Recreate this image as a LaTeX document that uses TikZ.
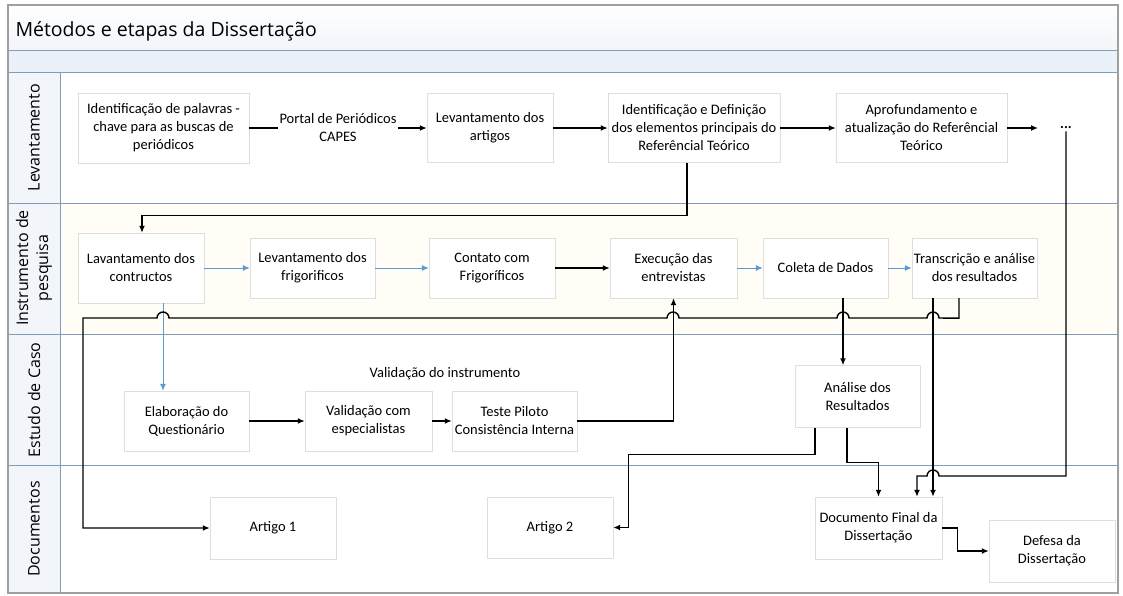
\documentclass[tikz,border=0pt]{standalone}
\usepackage{fontspec}
\setmainfont{Carlito}
\newfontfamily\lanefont{Open Sans}
\usetikzlibrary{arrows.meta}

\definecolor{lanecol}{RGB}{127,156,184}
\definecolor{flowblue}{RGB}{91,155,213}
\definecolor{boxline}{RGB}{222,222,222}
\definecolor{headfill}{RGB}{242,245,250}
\definecolor{bandfill}{RGB}{234,241,248}
\definecolor{lanewarm}{RGB}{255,253,246}

\begin{document}
\begin{tikzpicture}[	x=1pt,y=-1pt,%
					>={Latex[length=7pt,width=6pt]},%
					every node/.style={font=\fontsize{14.5}{18}\selectfont},%
					etapa/.style={draw=boxline,fill=white,align=center,inner sep=2pt},%
					rotulo/.style={align=center,inner sep=1pt},%
					raia/.style={rotate=90,align=center,font=\lanefont\fontsize{16}{20}\selectfont},%
					fluxo/.style={->,line width=1.4pt},%
					fluxoazul/.style={->,flowblue,line width=1pt}]
\useasboundingbox (0,0) rectangle (1123,595);

% raias
\shade[top color=white,bottom color=headfill] (8,5) rectangle (1118,50);
\fill[bandfill] (8,50) rectangle (1118,72);
\fill[headfill] (8,72) rectangle (60,593);
\fill[lanewarm] (60,203) rectangle (1118,334);
\foreach \y in {50,72,203,334,465}
	\draw[lanecol] (8,\y) -- (1118,\y);
\draw[lanecol] (60,72) -- (60,593);
\draw[gray!75,line width=1.5pt] (8,5) rectangle (1118,593);

\node[anchor=base west,font=\lanefont\fontsize{19.5}{22}\selectfont] (titulo) at (12,36) {Métodos e etapas da Dissertação};
\node[raia] (lev) at (34,137.5) {Levantamento};
\node[raia] (inst) at (34,268) {Instrumento de\\pesquisa};
\node[raia] (est) at (34,400) {Estudo de Caso};
\node[raia] (doc) at (34,529) {Documentos};

\foreach \a/\b/\c/\w/\h/\d in {ipal/163.5/128/171/70/{Identificação de palavras -\\chave para as buscas de\\periódicos},
	artigos/490/128/126/69/{Levantamento dos\\artigos},
	idef/694/128/172/69/{Identificação e Definição\\dos elementos principais do\\Referêncial Teórico},
	aprof/921.5/128/171/69/{Aprofundamento e\\atualização do Referêncial\\Teórico},
	cons/141/268/126/70/{Lavantamento dos\\contructos},
	frig/312.5/268/125/60/{Levantamento dos\\frigorificos},
	cont/492/268/126/60/{Contato com\\Frigoríficos},
	exec/673.5/268/127/60/{Execução das\\entrevistas},
	coleta/825.5/268/125/60/{Coleta de Dados},
	transc/974.5/268/125/60/{Transcrição e análise\\dos resultados},
	elab/186.5/421/125/60/{Elaboração do\\Questionário},
	valesp/368.5/421/127/60/{Validação com\\especialistas},
	teste/514.5/421/125/60/{Teste Piloto\\Consistência Interna},
	analise/857.5/396.5/125/62/{Análise dos\\Resultados},
	art1/273/528/126/62/{Artigo 1},
	art2/550/527.5/126/61/{Artigo 2},
	docf/878.5/528/127/62/{Documento Final da\\Dissertação},
	defesa/1052/551/126/62/{Defesa da\\Dissertação}}
	\node[etapa,minimum width=\w pt,minimum height=\h pt] (\a) at (\b,\c) {\d};

\node[rotulo] (capes) at (338,128) {Portal de Periódicos\\CAPES};
\node[inner xsep=22pt,inner ysep=2pt,font=\bfseries\fontsize{14.5}{18}\selectfont] (dots) at (1066,128) {...};
\node[rotulo] (valinst) at (445,374) {Validação do instrumento};

\draw[line width=1.4pt] (ipal) -- (capes);
\foreach \from/\to in {capes/artigos,artigos/idef,idef/aprof,aprof/dots,cont/exec,elab/valesp,valesp/teste}
	\draw[fluxo] (\from) -- (\to);
\foreach \from/\to in {cons/frig,frig/cont,exec/coleta,coleta/transc}
	\draw[fluxoazul] (\from) -- (\to);

\draw[fluxo] ([xshift=-7pt]idef.south) -- ++(0,53) -| ([xshift=1pt]cons.north);
\draw[fluxoazul] ([xshift=22pt]cons.south) -- ([xshift=22pt]cons.south |- elab.north);
\draw[fluxo] (teste.east) -| (exec.south);
\draw[fluxo] ([xshift=17.5pt]coleta.south) -- ([xshift=17.5pt]coleta.south |- analise.north);

% linha longa com saltos
\draw[fluxo] ([xshift=-15.5pt]transc.south) -- ++(0,20) -- (939,318) arc[start angle=0,end angle=-180,radius=6]
	-- (849,318) arc[start angle=0,end angle=-180,radius=6]
	-- (679,318) arc[start angle=0,end angle=-180,radius=6]
	-- (169,318) arc[start angle=0,end angle=-180,radius=6]
	-- (83,318) |- (art1.west);
\draw[fluxo] ([xshift=-41.5pt]transc.south) -- ([xshift=54.5pt]docf.north);
\draw[fluxo] (dots.south) |- (939,476) arc[start angle=0,end angle=-180,radius=6] -| ([xshift=38.5pt]docf.north);

\draw[fluxo] ([xshift=-42.5pt]analise.south) -- ++(0,27) -| ([xshift=15pt]art2.east) -- (art2.east);
\draw[fluxo] ([xshift=-10.5pt]analise.south) -- ++(0,35) -| (docf.north);
\draw[fluxo] (docf.east) -- ++(15,0) |- (defesa.west);

\end{tikzpicture}
\end{document}
